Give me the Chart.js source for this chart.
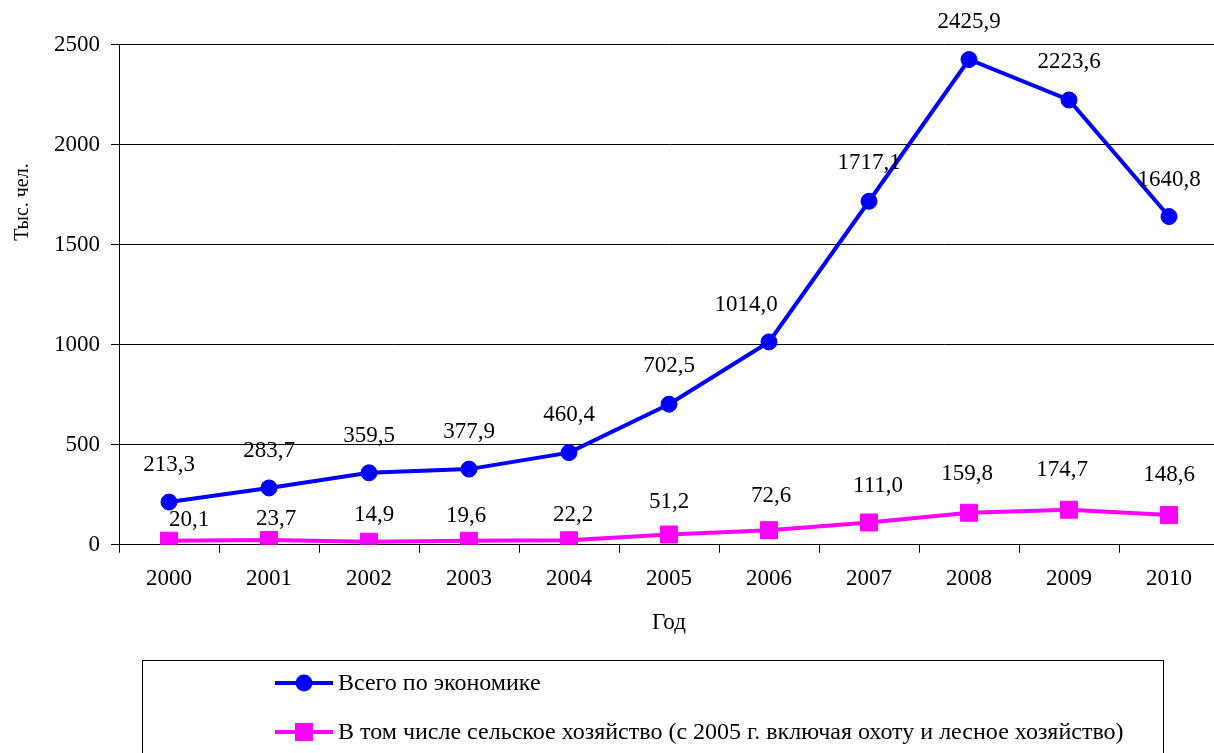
<!DOCTYPE html>
<html><head><meta charset="utf-8">
<script src="https://cdn.jsdelivr.net/npm/chart.js@4/dist/chart.umd.min.js"></script>
<style>
html,body{margin:0;padding:0;background:#fff;overflow:hidden}
#wrap{position:relative;width:1232px;height:753px}
canvas{display:block}
</style>
</head><body>
<div id="wrap"><canvas id="c" width="1232" height="753"></canvas></div>
<script>
// ---- data ----
const years = ['2000','2001','2002','2003','2004','2005','2006','2007','2008','2009','2010'];
const totalEconomy = [213.3, 283.7, 359.5, 377.9, 460.4, 702.5, 1014.0, 1717.1, 2425.9, 2223.6, 1640.8];
const agriculture = [20.1, 23.7, 14.9, 19.6, 22.2, 51.2, 72.6, 111.0, 159.8, 174.7, 148.6];
const yTicks = [0, 500, 1000, 1500, 2000, 2500];
const seriesNames = ['Всего по экономике', 'В том числе сельское хозяйство (с 2005 г. включая охоту и лесное хозяйство)'];
const xTitle = 'Год';
const yTitle = 'Тыс. чел.';

// ---- styles ----
const FONT = "'Liberation Serif','Times New Roman',serif";
const BLUE = '#0000FF', MAGENTA = '#FF00FF';
// label nudges (style, relative to each point): [dx, dy above]
const labelNudges = [
  [[0,37],[0,37],[0,37],[0,37],[0,38],[0,38],[-23,37],[0,38],[0,38],[0,38],[0,37]],
  [[20,21],[7,21],[5,27],[-3,25],[4,25],[0,33],[2,34],[9,37],[-2,39],[-7,40],[0,40]]
];

const fmt = v => v.toFixed(1).replace('.', ',');

const valueLabels = {
  id: 'valueLabels',
  afterDatasetsDraw(chart) {
    const ctx = chart.ctx;
    ctx.save();
    ctx.font = '23px ' + FONT;
    ctx.fillStyle = '#000';
    ctx.textAlign = 'center';
    ctx.textBaseline = 'middle';
    chart.data.datasets.forEach((ds, di) => {
      const meta = chart.getDatasetMeta(di);
      meta.data.forEach((pt, i) => {
        const n = labelNudges[di][i];
        ctx.fillText(fmt(ds.data[i]), pt.x + n[0], pt.y - n[1]);
      });
    });
    ctx.restore();
  }
};

const extras = {
  id: 'extras',
  afterDraw(chart) {
    const ctx = chart.ctx;
    const area = chart.chartArea;
    ctx.save();
    ctx.fillStyle = '#000';
    // axis titles
    ctx.font = '23px ' + FONT;
    ctx.textAlign = 'center';
    ctx.textBaseline = 'middle';
    ctx.fillText(xTitle, (area.left + area.right) / 2, area.bottom + 78);
    ctx.save();
    ctx.translate(23, 202);
    ctx.rotate(-Math.PI / 2);
    ctx.font = '20px ' + FONT;
    ctx.fillText(yTitle, 0, 0);
    ctx.restore();
    // legend box
    ctx.strokeStyle = '#000';
    ctx.lineWidth = 1;
    ctx.strokeRect(142.5, 660.5, 1021, 200);
    ctx.font = '24px ' + FONT;
    ctx.textAlign = 'left';
    const rows = [683, 732];
    chart.data.datasets.forEach((ds, di) => {
      const y = rows[di];
      ctx.strokeStyle = ds.borderColor;
      ctx.lineWidth = 4;
      ctx.beginPath(); ctx.moveTo(275, y); ctx.lineTo(333, y); ctx.stroke();
      ctx.fillStyle = ds.pointBackgroundColor;
      if (ds.pointStyle === 'rect') {
        ctx.fillRect(295, y - 9, 18, 18);
      } else {
        ctx.beginPath(); ctx.arc(304, y, 8.5, 0, Math.PI * 2); ctx.fill();
      }
      ctx.fillStyle = '#000';
      ctx.fillText(ds.label, 338, y + 1);
    });
    ctx.restore();
  }
};

new Chart(document.getElementById('c'), {
  type: 'line',
  data: {
    labels: years,
    datasets: [
      { label: seriesNames[0], data: totalEconomy, borderColor: BLUE, backgroundColor: BLUE,
        pointBackgroundColor: BLUE, pointBorderColor: BLUE, borderWidth: 4,
        pointStyle: 'circle', pointRadius: 8, pointBorderWidth: 1, tension: 0 },
      { label: seriesNames[1], data: agriculture, borderColor: MAGENTA, backgroundColor: MAGENTA,
        pointBackgroundColor: MAGENTA, pointBorderColor: MAGENTA, borderWidth: 4,
        pointStyle: 'rect', pointRadius: 12, pointBorderWidth: 1, tension: 0 }
    ]
  },
  options: {
    responsive: false,
    animation: false,
    layout: { padding: { top: 44.7, right: 3, left: 0, bottom: 0 } },
    plugins: { legend: { display: false }, tooltip: { enabled: false } },
    scales: {
      x: {
        type: 'category',
        offset: true,
        grid: { display: true, offset: true, drawOnChartArea: false, drawTicks: true, tickLength: 8, color: '#000' },
        border: { display: true, color: '#000', width: 1 },
        ticks: { padding: 12, color: '#000', font: { family: FONT, size: 23 }, maxRotation: 0, autoSkip: false },
        afterFit: s => { s.height = 208.3; }
      },
      y: {
        min: yTicks[0],
        max: yTicks[yTicks.length - 1],
        grid: { color: '#000', lineWidth: 1, tickLength: 8 },
        border: { display: true, color: '#000', width: 1 },
        ticks: { stepSize: yTicks[1] - yTicks[0], padding: 11, color: '#000',
                 font: { family: FONT, size: 23 }, callback: v => String(v) },
        afterFit: s => { s.width = 119; }
      }
    }
  },
  plugins: [valueLabels, extras]
});
</script>
</body></html>
